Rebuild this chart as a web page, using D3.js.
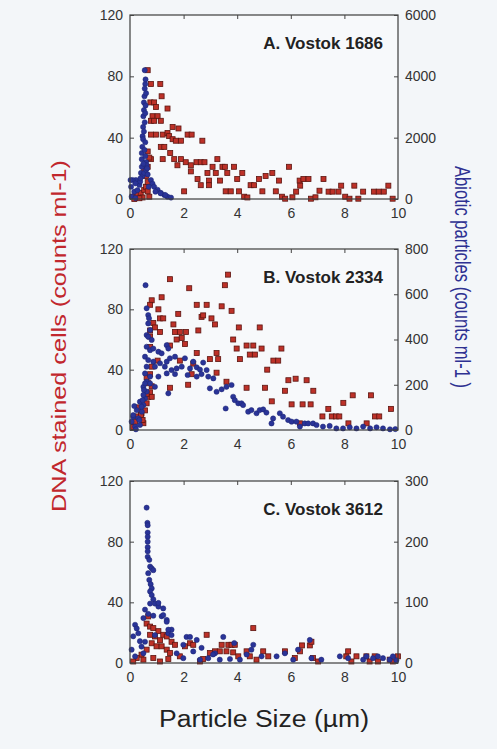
<!DOCTYPE html>
<html>
<head>
<meta charset="utf-8">
<script src="https://cdn.jsdelivr.net/npm/d3@7"></script>
<style>
    body { margin: 0; background: #f3f6f9; }
    svg { display: block; font-family: "Liberation Sans", Arial, sans-serif; }
</style>
</head>
<body>
<div id="plot"></div>
<script>
// Red = DNA stained cells (left axis), blue = abiotic particles (right axis).
// Each point is [particle size (um), count].
var a_cells = [[0.66,84],[0.78,75],[1.13,75],[1.18,67],[0.76,63],[0.9,63],[0.97,60],[1.4,59],[0.84,54],[1.03,54],[0.78,51],[0.9,51],[1.15,51],[1.59,47],[1.81,46],[0.78,42],[0.97,42],[1.22,42],[1.4,43],[1.46,41],[1.59,39],[1.71,38],[1.9,38],[2.15,42],[2.3,42],[2.7,38],[1.15,34],[1.28,34],[1.5,30],[0.78,26],[1.22,26],[1.65,26],[1.9,26],[2.08,24],[2.48,24],[2.64,24],[2.78,24],[3.26,26],[1.77,22],[2.27,22],[3.08,21],[3.45,21],[3.54,21],[3.88,21],[5.93,21],[2.27,18],[2.89,17],[3.2,17],[3.63,17],[4.19,17],[5.31,17],[2.52,13],[2.95,12],[3.36,12],[4.0,13],[4.81,13],[5.06,15],[5.56,12],[6.33,12],[6.47,13],[6.66,13],[7.22,13],[2.64,9],[2.95,9],[4.5,9],[4.63,9],[6.35,8.7],[7.88,8.7],[8.37,8.7],[9.64,8.7],[2.02,5],[3.57,5],[3.76,5],[4.07,5],[4.94,5],[5.44,5],[6.2,4.8],[7.07,5.4],[7.41,4.8],[7.56,4.8],[7.78,4.8],[8.7,4.8],[9.1,4.8],[9.28,4.8],[9.47,4.8],[4.26,1.5],[4.38,1],[5.67,1.5],[5.79,0.2],[6.06,1.1],[6.75,0.2],[6.92,1.1],[8.03,1.5],[8.19,0.2],[8.52,0.2],[9.8,0.2],[0.1,1.5],[0.28,3],[0.4,4],[0.53,6],[0.6,8],[0.66,11],[0.6,15],[0.53,19],[0.47,1],[0.66,5],[0.72,1.5],[0.35,0.5],[0.16,0],[0.66,31],[0.72,27],[0.66,21]];
var a_particles = [[0.55,4200],[0.57,3750],[0.55,3600],[0.54,3350],[0.52,3150],[0.52,2900],[0.5,2700],[0.49,2350],[0.47,2050],[0.49,1950],[0.46,1700],[0.44,1500],[0.44,1300],[0.44,1050],[0.41,850],[0.47,750],[0.53,850],[0.6,950],[0.66,800],[0.78,620],[0.84,500],[0.9,400],[1.03,300],[1.15,200],[1.28,130],[1.4,75],[1.53,45],[0.22,620],[0.1,620],[0.04,400],[0.16,240],[0.28,290],[0.35,460],[0.38,570],[0.06,75],[0.2,30],[0.58,3900],[0.6,3450],[0.58,3050],[0.57,2800],[0.55,2500],[0.52,2200],[0.57,1850],[0.54,1600],[0.57,1400],[0.6,1200],[0.62,1100],[0.64,1000],[0.5,1150],[0.02,620],[0.2,510],[0.39,675],[0.7,400],[0.95,240],[1.14,185],[1.32,130]];

var b_cells = [[3.66,103],[1.49,100],[2.21,94],[3.54,96],[0.81,86],[1.18,88],[0.75,83],[1.8,77],[2.49,83],[2.86,83],[3.42,82],[3.79,79],[1.06,80],[1.12,74],[1.24,74],[2.67,75],[3.04,74],[2.73,76],[0.87,71],[0.93,68],[1.62,70],[1.68,65],[1.86,65],[2.09,65],[2.55,66],[3.17,70],[4.06,68],[4.84,68],[0.75,66],[1.93,61],[1.74,60],[3.85,60],[4.35,56],[4.6,56],[4.91,54],[3.98,54],[5.65,54],[0.75,62],[1.12,65],[2.05,57],[2.49,51],[3.23,51],[4.1,47],[4.47,50],[4.66,50],[5.35,46],[5.53,46],[0.75,55],[1.49,56],[2.36,44],[2.98,47],[3.29,47],[5.12,40],[1.86,46],[1.03,46],[3.23,38],[2.3,37],[3.6,32],[1.49,28],[4.35,28],[5.04,28],[5.78,26],[5.91,33],[6.18,34],[6.59,33],[6.84,26],[2.17,30],[5.29,19],[6.03,17],[6.44,17],[6.74,17],[7.4,14],[7.96,18],[8.31,23],[8.99,23],[9.74,14],[7.18,9],[7.53,9],[7.69,9],[7.81,9],[9.14,9],[9.3,9],[6.34,4.4],[8.15,4.4],[8.83,4.4],[0.12,2],[0.19,5.5],[0.27,9],[0.31,15],[0.43,11],[0.5,4.5],[0.47,6.6],[0.56,13],[0.62,17.7],[0.68,22],[0.75,25],[0.81,29],[0.68,31],[0.62,35],[0.75,37],[0.81,42],[0.81,22],[0.62,24],[0.41,10]];
var b_particles = [[0.58,640],[0.62,538],[0.68,508],[0.71,494],[0.68,471],[0.75,442],[0.62,420],[0.68,412],[0.81,398],[0.62,368],[0.75,353],[0.87,360],[1.06,346],[1.18,339],[1.37,375],[1.43,360],[0.56,324],[0.68,309],[0.87,302],[1.12,295],[1.37,302],[1.49,317],[1.68,324],[2.05,317],[2.36,302],[2.73,298],[0.62,280],[0.93,280],[1.3,280],[1.55,265],[1.74,272],[1.93,280],[2.24,272],[2.49,277],[2.61,267],[2.86,265],[0.56,250],[0.75,236],[1.06,236],[1.37,250],[1.68,247],[2.15,243],[2.49,236],[2.67,247],[2.92,236],[3.11,228],[0.62,214],[0.75,206],[0.5,191],[0.93,191],[1.43,162],[2.98,184],[3.23,169],[3.42,180],[3.6,191],[3.79,199],[3.57,95],[3.85,147],[3.91,132],[4.04,118],[4.16,118],[4.22,110],[4.41,81],[4.53,88],[4.72,74],[4.84,88],[4.97,91],[5.09,77],[5.28,29],[5.34,51],[5.59,74],[5.71,59],[5.9,44],[6.03,37],[6.21,37],[6.34,15],[6.52,29],[6.65,29],[6.83,29],[6.96,22],[7.2,15],[7.45,18],[7.7,7],[7.95,7],[8.2,12],[8.45,7],[8.7,15],[8.96,7],[9.2,12],[9.44,7],[9.7,3],[9.9,4],[0.06,37],[0.12,59],[0.19,15],[0.31,52],[0.12,66],[0.44,81],[0.5,110],[0.56,140],[0.37,125],[0.62,170],[0.25,88],[0.35,44],[0.37,22],[0.43,103],[0.47,132],[0.5,155],[0.52,177],[0.56,206],[0.22,3],[0.16,106]];

var c_cells = [[4.6,23],[2.86,18.6],[0.68,30.7],[0.62,26],[0.75,24],[0.87,23],[1.06,21],[1.24,18.6],[0.75,18.6],[0.93,17.5],[1.12,15],[1.37,17.5],[1.55,14],[1.68,12],[0.81,13],[0.99,11],[1.18,11],[1.37,8.8],[1.49,6.6],[0.62,8.8],[0.43,5.5],[0.25,3.3],[0.12,1],[0.5,2.2],[0.87,3.3],[1.12,1],[1.43,2.6],[1.86,4.4],[2.05,11],[2.24,13],[2.36,12],[2.61,1],[2.73,2.6],[2.98,6.6],[3.17,7.7],[3.35,7.7],[3.42,12],[3.67,12],[3.79,12],[3.91,12],[3.6,7.7],[3.85,7],[4.04,4.4],[4.35,7.7],[4.47,4.4],[4.72,2.2],[4.97,7.7],[5.16,4.4],[5.78,7.7],[6.15,3.3],[6.34,7.7],[6.42,11.6],[6.71,11.6],[6.77,14],[6.83,3.3],[7.02,1],[8.07,4.4],[8.14,7.7],[8.26,1],[8.45,4.4],[8.82,4.4],[8.94,1],[9.13,4.4],[9.25,1],[9.69,2.2],[9.81,1],[10,4.4]];
var c_particles = [[0.62,256],[0.65,231],[0.66,227],[0.66,215],[0.66,208],[0.66,200],[0.66,191],[0.66,184],[0.66,175],[0.72,170],[0.75,159],[0.81,156],[0.87,153],[0.68,148],[0.72,137],[0.77,130],[0.81,123],[0.75,118],[0.81,112],[0.87,105],[0.75,98],[0.93,98],[1.06,93],[1.24,90],[0.56,88],[0.68,81],[0.87,78],[1.18,77],[0.5,74],[1.37,71],[1.55,55],[1.43,49],[2.11,43],[2.24,43],[2.49,38],[3.48,43],[4.6,30],[3.89,33],[6.71,38],[6.27,22],[5.78,16],[0.19,63],[0.25,57],[0.12,44],[0.31,49],[0.37,36],[0.06,22],[0.19,11],[0.43,27],[0.5,16],[1.74,16],[1.99,8],[2.36,19],[2.61,5.5],[2.92,8],[3.17,16],[3.35,5.5],[3.73,6.6],[4.1,5.5],[4.35,14],[4.53,22],[4.91,11],[5.47,11],[6.09,5.5],[6.77,8],[7.14,5.5],[7.83,11],[8.14,8],[8.7,5.5],[8.82,11],[9.07,8],[9.25,11],[9.44,8],[9.69,5.5],[9.94,4.4],[9.81,11],[1.99,30],[2.67,25],[3.1,14],[1.06,99],[1.24,79],[1.37,68],[1.43,55],[1.55,46],[0.93,46],[0.56,35]];

var panel_titles = ["A. Vostok 1686", "B. Vostok 2334", "C. Vostok 3612"];
var x_ticks = [0, 2, 4, 6, 8, 10];
var left_ticks = [0, 40, 80, 120];
var right_ticks_a = [0, 2000, 4000, 6000];
var right_ticks_b = [0, 200, 400, 600, 800];
var right_ticks_c = [0, 100, 200, 300];

var width = 497, height = 749;
var left = 130, right = 398;

var svg = d3.select("div#plot").append("svg")
    .attr("width", width)
    .attr("height", height)
    .attr("viewBox", "0 0 " + width + " " + height);

svg.append("rect")
    .attr("width", width)
    .attr("height", height)
    .attr("fill", "#f3f6f9");

var panels = [
    {title: panel_titles[0], top: 15, bottom: 199, cells: a_cells, particles: a_particles, r_ticks: right_ticks_a},
    {title: panel_titles[1], top: 249, bottom: 430, cells: b_cells, particles: b_particles, r_ticks: right_ticks_b},
    {title: panel_titles[2], top: 481, bottom: 663, cells: c_cells, particles: c_particles, r_ticks: right_ticks_c}
];

function style_axis(g) {
    g.select(".domain").remove();
    g.selectAll("line").attr("stroke", "#444");
    g.selectAll("text")
        .attr("fill", "#333")
        .style("font-size", "14px");
}

function draw_panel(p) {
    var x_scale = d3.scaleLinear().domain([0, 10]).range([left, right]);
    var y_left = d3.scaleLinear().domain([0, 120]).range([p.bottom, p.top]);
    var r_max = p.r_ticks[p.r_ticks.length - 1];
    var y_right = d3.scaleLinear().domain([0, r_max]).range([p.bottom, p.top]);

    var g = svg.append("g");

    // Plot area.
    g.append("rect")
        .attr("x", left).attr("y", p.top)
        .attr("width", right - left).attr("height", p.bottom - p.top)
        .attr("fill", "#f7f9fb");

    // Red squares first, blue dots over them.
    var s = 5;
    g.append("g").selectAll("rect")
        .data(p.cells)
        .join("rect")
            .attr("x", d => x_scale(d[0]) - s / 2)
            .attr("y", d => y_left(d[1]) - s / 2)
            .attr("width", s).attr("height", s)
            .attr("fill", "#bd3128")
            .attr("stroke", "#5c1510")
            .attr("stroke-width", 0.8);

    g.append("g").selectAll("circle")
        .data(p.particles)
        .join("circle")
            .attr("cx", d => x_scale(d[0]))
            .attr("cy", d => y_right(d[1]))
            .attr("r", 2.6)
            .attr("fill", "#2a3498")
            .attr("stroke", "#1c2470")
            .attr("stroke-width", 0.5);

    // Frame.
    g.append("rect")
        .attr("x", left).attr("y", p.top)
        .attr("width", right - left).attr("height", p.bottom - p.top)
        .attr("fill", "none")
        .attr("stroke", "#3c3c3c")
        .attr("stroke-width", 1.2);

    // Axes, ticks pointing inward.
    g.append("g")
        .attr("transform", "translate(" + left + ",0)")
        .call(d3.axisLeft(y_left).tickValues(left_ticks).tickSize(-4).tickPadding(7))
        .call(style_axis);

    g.append("g")
        .attr("transform", "translate(" + right + ",0)")
        .call(d3.axisRight(y_right).tickValues(p.r_ticks).tickSize(-4).tickPadding(7).tickFormat(d3.format("d")))
        .call(style_axis);

    g.append("g")
        .attr("transform", "translate(0," + p.bottom + ")")
        .call(d3.axisBottom(x_scale).tickValues(x_ticks).tickSize(0).tickPadding(9))
        .call(style_axis);

    g.append("g")
        .attr("transform", "translate(0," + p.top + ")")
        .call(d3.axisTop(x_scale).tickValues([2, 4, 6, 8]).tickSize(-4).tickFormat(""))
        .call(style_axis);

    g.append("text")
        .attr("x", right - 15)
        .attr("y", p.top + 34)
        .attr("text-anchor", "end")
        .attr("fill", "#222")
        .style("font-size", "17px")
        .style("font-weight", "bold")
        .text(p.title);
}

panels.forEach(draw_panel);

// Axis titles.
svg.append("text")
    .attr("transform", "translate(66,336) rotate(-90)")
    .attr("text-anchor", "middle")
    .attr("fill", "#c1272d")
    .attr("textLength", 352)
    .attr("lengthAdjust", "spacingAndGlyphs")
    .style("font-size", "21px")
    .text("DNA stained cells (counts ml-1)");

svg.append("text")
    .attr("transform", "translate(455,277) rotate(90)")
    .attr("text-anchor", "middle")
    .attr("fill", "#2e3192")
    .attr("textLength", 222)
    .attr("lengthAdjust", "spacingAndGlyphs")
    .style("font-size", "22px")
    .text("Abiotic particles (counts ml-1 )");

svg.append("text")
    .attr("x", 264)
    .attr("y", 727)
    .attr("text-anchor", "middle")
    .attr("fill", "#222")
    .attr("textLength", 210)
    .attr("lengthAdjust", "spacingAndGlyphs")
    .style("font-size", "23px")
    .text("Particle Size (\u00b5m)");
</script>
</body>
</html>
